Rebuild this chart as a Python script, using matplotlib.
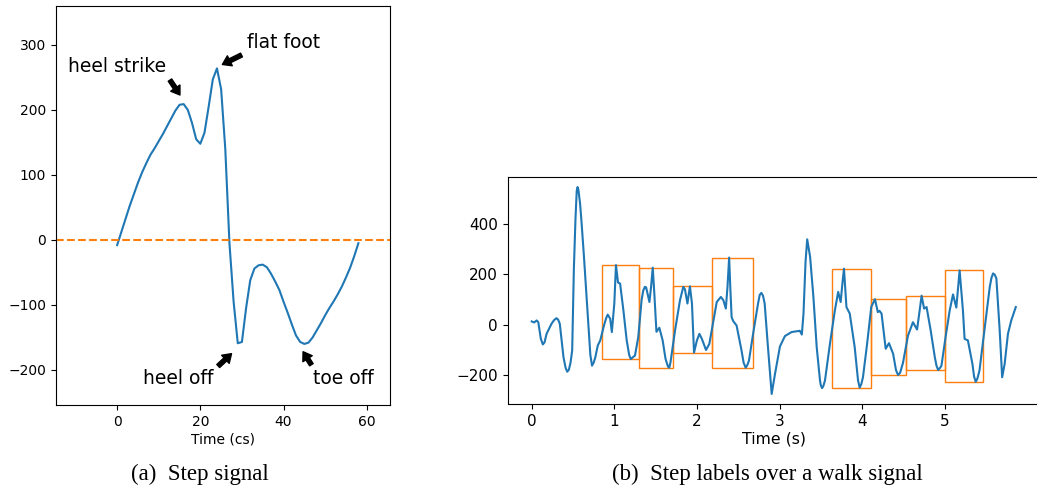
import matplotlib
matplotlib.use("Agg")
import matplotlib.pyplot as plt
from matplotlib.patches import Rectangle

# ---- (a) single step, sampled every centisecond ----
step_t = list(range(0, 59))
step_v = [-8, 12, 32, 52, 70, 88, 104, 118, 131, 141,
          152, 163, 175, 187, 199, 208, 209, 200, 180, 155,
          148, 165, 205, 247, 264, 232, 140, -5, -95, -159,
          -157, -105, -62, -44, -39, -38, -42, -52, -64, -77,
          -95, -112, -130, -147, -157, -160, -158, -150, -139, -128,
          -116, -105, -95, -84, -72, -58, -43, -25, -5]

# phase labels: (text, text x, text baseline y, arrow tail, arrow tip)
phase_names = ["heel strike", "flat foot", "heel off", "toe off"]
phase_text_xy = [(-11.8, 259), (31.1, 295), (6.25, -221.5), (47.1, -221.5)]
phase_arrow_from = [(12.7, 246), (29.9, 284.6), (24.3, -194), (46.7, -192)]
phase_arrow_to = [(15.1, 223), (25.3, 270), (27.5, -175), (44.7, -172)]

# ---- (b) walk signal with labelled steps ----
walk_t = [0.00, 0.03, 0.06, 0.08, 0.11, 0.135, 0.155, 0.18, 0.24, 0.27,
          0.30, 0.32, 0.34, 0.385, 0.41, 0.43, 0.45, 0.47, 0.49, 0.51,
          0.53, 0.545, 0.555, 0.565, 0.585, 0.60, 0.63, 0.69, 0.71, 0.73,
          0.75, 0.77, 0.80, 0.83, 0.87, 0.90, 0.92, 0.95, 0.97, 1.00,
          1.02, 1.045, 1.07, 1.11, 1.15, 1.18, 1.20, 1.22, 1.25, 1.29,
          1.33, 1.35, 1.37, 1.385, 1.425, 1.445, 1.465, 1.485, 1.51, 1.545,
          1.585, 1.62, 1.65, 1.665, 1.68, 1.735, 1.795, 1.835, 1.855, 1.885,
          1.915, 1.94, 1.965, 2.00, 2.03, 2.06, 2.11, 2.15, 2.20, 2.24,
          2.29, 2.32, 2.35, 2.37, 2.39, 2.405, 2.42, 2.44, 2.48, 2.54,
          2.565, 2.59, 2.61, 2.63, 2.68, 2.74, 2.76, 2.78, 2.80, 2.82,
          2.86, 2.905, 2.945, 2.975, 3.005, 3.065, 3.145, 3.245, 3.27, 3.29,
          3.315, 3.335, 3.37, 3.41, 3.45, 3.49, 3.50, 3.515, 3.53, 3.55,
          3.61, 3.67, 3.71, 3.74, 3.76, 3.78, 3.81, 3.85, 3.91, 3.95,
          3.97, 3.99, 4.01, 4.06, 4.11, 4.155, 4.19, 4.21, 4.235, 4.285,
          4.325, 4.375, 4.41, 4.435, 4.46, 4.495, 4.555, 4.615, 4.665, 4.72,
          4.75, 4.78, 4.83, 4.88, 4.90, 4.92, 4.94, 4.96, 5.01, 5.06,
          5.10, 5.14, 5.18, 5.22, 5.24, 5.28, 5.335, 5.355, 5.375, 5.395,
          5.42, 5.485, 5.545, 5.565, 5.585, 5.605, 5.625, 5.665, 5.695, 5.725,
          5.765, 5.805, 5.86]
walk_v = [13, 9, 17, 10, -55, -78, -70, -36, 4, 18,
          26, 20, 4, -129, -170, -186, -178, -150, -102, 216,
          420, 530, 545, 535, 481, 420, 282, -23, -120, -162,
          -150, -129, -82, -62, -9, 25, 40, 24, -29, 84,
          236, 167, 163, 57, -62, -120, -136, -130, -122, -49,
          97, 135, 150, 148, 90, 150, 226, 120, -28, -12,
          -62, -135, -166, -170, -149, -23, 97, 150, 140, 84,
          152, 84, -110, -62, -36, -56, -100, -76, 17, 90,
          110, 97, 64, 150, 266, 140, 30, 14, -3, -102,
          -150, -170, -160, -142, -36, 84, 118, 126, 115, 84,
          -89, -274, -195, -140, -86, -45, -29, -24, -39, 44,
          250, 338, 269, 110, -89, -221, -240, -251, -243, -221,
          -76, 57, 130, 90, 160, 222, 70, 44, -89, -220,
          -249, -235, -208, -76, 70, 101, 50, 55, 44, -95,
          -73, -115, -180, -199, -190, -150, -43, 10, -19, 115,
          64, 70, -23, -129, -162, -179, -172, -162, -49, 57,
          120, 68, 215, 57, -56, -62, -155, -205, -226, -213,
          -182, -10, 150, 185, 203, 198, 183, -23, -208, -155,
          -36, 17, 70]

step_start = [0.856, 1.296, 1.715, 2.179, 3.630, 4.105, 4.528, 5.008]
step_end = [1.296, 1.715, 2.179, 2.678, 4.105, 4.528, 5.008, 5.463]

blue = "#1f77b4"
orange = "#ff7f0e"

fig = plt.figure(figsize=(10.37, 4.93), dpi=100)

# ---------------- left panel ----------------
ax1 = fig.add_axes([56 / 1037, 1 - 405 / 493, (390 - 56) / 1037, (405 - 6) / 493])
ax1.plot(step_t, step_v, color=blue, lw=1.5)
ax1.axhline(0, color=orange, ls="--", lw=1.5)
ax1.set_xlim(-14.7, 65.6)
ax1.set_ylim(-254, 360)
ax1.set_xticks([0, 20, 40, 60])
ax1.set_yticks([-200, -100, 0, 100, 200, 300])
ax1.tick_params(labelsize=10)
ax1.set_xlabel("Time (cs)", fontsize=10, labelpad=3)

for name, txy, a0, a1 in zip(phase_names, phase_text_xy,
                             phase_arrow_from, phase_arrow_to):
    ax1.text(txy[0], txy[1], name, fontsize=13.5, ha="left", va="baseline")
    ax1.annotate("", xy=a1, xytext=a0,
                 arrowprops=dict(facecolor="black", edgecolor="black",
                                 width=3, headwidth=8, headlength=6,
                                 shrink=0))

# ---------------- right panel ----------------
ax2 = fig.add_axes([507.5 / 1037, 1 - 404.3 / 493,
                    (1040 - 507.5) / 1037, (404.3 - 176.7) / 493])
ax2.plot(walk_t, walk_v, color=blue, lw=1.5)
for s0, s1 in zip(step_start, step_end):
    seg = [v for t, v in zip(walk_t, walk_v) if s0 <= t <= s1]
    lo, hi = min(seg), max(seg)
    ax2.add_patch(Rectangle((s0, lo), s1 - s0, hi - lo, fill=False,
                            edgecolor=orange, lw=1.0))
ax2.set_xticks([0, 1, 2, 3, 4, 5])
ax2.set_yticks([-200, 0, 200, 400])
ax2.tick_params(labelsize=11)
ax2.set_xlabel("Time (s)", fontsize=11.3, labelpad=2)

# ---------------- captions ----------------
cap_font = dict(family="Liberation Serif", size=16.5, ha="center", va="center")
fig.text(200 / 1037, 1 - 474 / 493, "(a)  Step signal", **cap_font)
fig.text(767 / 1037, 1 - 474 / 493, "(b)  Step labels over a walk signal", **cap_font)

fig.savefig("out.png", dpi=100)
